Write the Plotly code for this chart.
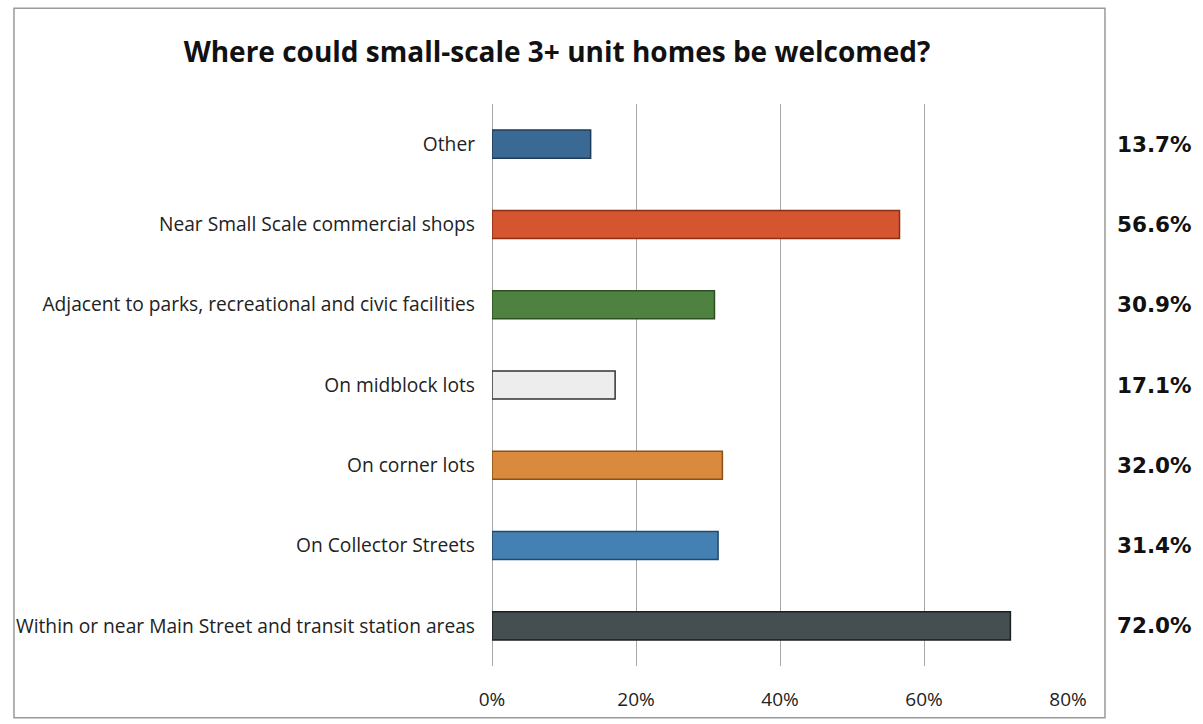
import plotly.graph_objects as go

categories = [
    "Other",
    "Near Small Scale commercial shops",
    "Adjacent to parks, recreational and civic facilities",
    "On midblock lots",
    "On corner lots",
    "On Collector Streets",
    "Within or near Main Street and transit station areas",
]
values = [13.7, 56.6, 30.9, 17.1, 32.0, 31.4, 72.0]
bar_colors = ["#3A6A94", "#D4552F", "#4F8240", "#EDEDED", "#D98A3C", "#4580B3", "#454F52"]
line_colors = ["#1E3B58", "#8A2E14", "#2E4F22", "#333333", "#8A5218", "#24476A", "#1A1F20"]
tick_vals = [0, 20, 40, 60, 80]
tick_text = ["0%", "20%", "40%", "60%", "80%"]
title_text = "Where could small-scale 3+ unit homes be welcomed?"

fig = go.Figure()
fig.add_trace(go.Bar(
    y=categories, x=values, orientation="h",
    marker=dict(color=bar_colors, line=dict(color=line_colors, width=1.5)),
    width=0.35, showlegend=False, hoverinfo="x+y",
))

for c, v in zip(categories, values):
    fig.add_annotation(
        x=1.151, xref="paper", y=c, yref="y", text=f"<b>{v:.1f}%</b>",
        showarrow=False, xanchor="center",
        font=dict(family="DejaVu Sans", size=21.5, color="#111111"),
    )

fig.add_shape(type="rect", xref="paper", yref="paper",
              x0=-0.8299, x1=1.0642, y0=-0.0922, y1=1.1702,
              line=dict(color="#9A9A9A", width=1.5), layer="below")

fig.update_layout(
    width=1203, height=724,
    margin=dict(l=492, r=135, t=104, b=56),
    paper_bgcolor="white", plot_bgcolor="white",
    title=dict(text=f"<b>{title_text}</b>", x=0.463, xanchor="center",
               y=0.928, yanchor="middle",
               font=dict(family="Open Sans", size=28, color="#111111")),
    xaxis=dict(range=[0, 80], tickvals=tick_vals, ticktext=tick_text,
               showgrid=True, gridcolor="#A8A8A8", gridwidth=1,
               zeroline=True, zerolinecolor="#A8A8A8", zerolinewidth=1,
               showline=False, ticks="", ticklabelstandoff=20,
               tickfont=dict(family="Open Sans", size=19, color="#222222")),
    yaxis=dict(categoryorder="array", categoryarray=categories[::-1],
               showgrid=False, showline=False, ticks="",
               ticklabelstandoff=16,
               tickfont=dict(family="Open Sans", size=19.2, color="#222222")),
    bargap=0.65,
)

fig.write_html("out.html")
